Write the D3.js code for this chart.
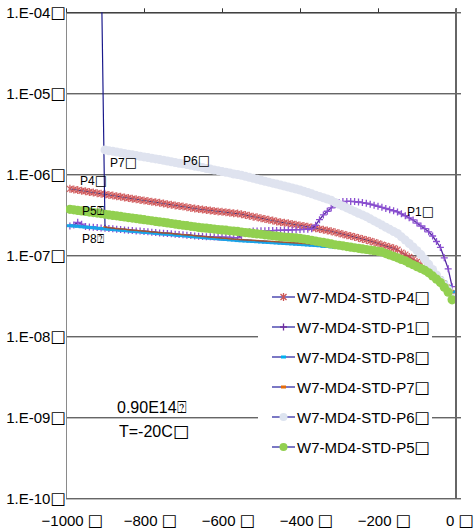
<!DOCTYPE html>
<html><head><meta charset="utf-8">
<script src="https://cdn.jsdelivr.net/npm/d3@7"></script>
<style>
html,body{margin:0;padding:0;background:#fff;}
svg text{font-family:"Liberation Sans",Arial,sans-serif;fill:#000;}
tspan.bx{font-family:"DejaVu Sans",sans-serif;}
</style></head><body>
<svg id="c" width="475" height="528"></svg>
<script>
// ---- data (current in units of 1e-7 A) ----
const volts = [-990,-980,-970,-960,-950,-940,-930,-920,-910,-900,-890,-880,-870,-860,-850,-840,-830,-820,-810,-800,-790,-780,-770,-760,-750,-740,-730,-720,-710,-700,-690,-680,-670,-660,-650,-640,-630,-620,-610,-600,-590,-580,-570,-560,-550,-540,-530,-520,-510,-500,-490,-480,-470,-460,-450,-440,-430,-420,-410,-400,-390,-380,-370,-360,-350,-340,-330,-320,-310,-300,-290,-280,-270,-260,-250,-240,-230,-220,-210,-200,-190,-180,-170,-160,-150,-140,-130,-120,-110,-100,-90,-80,-70,-60,-50,-40,-30,-20,-10];
const seriesNames = ["W7-MD4-STD-P4","W7-MD4-STD-P1","W7-MD4-STD-P8","W7-MD4-STD-P7","W7-MD4-STD-P6","W7-MD4-STD-P5"];
const legendSuffix = "□";
const p4 = [6.61,6.49,6.38,6.27,6.17,6.05,5.96,5.85,5.75,5.65,
5.56,5.46,5.37,5.27,5.18,5.09,5.00,4.92,4.83,4.75,
4.67,4.59,4.51,4.44,4.36,4.28,4.21,4.13,4.06,3.99,
3.93,3.85,3.79,3.72,3.67,3.62,3.58,3.53,3.48,3.44,
3.40,3.35,3.30,3.27,3.21,3.14,3.07,3.00,2.94,2.87,
2.81,2.74,2.69,2.62,2.56,2.52,2.48,2.43,2.39,2.34,
2.30,2.25,2.20,2.16,2.11,2.07,2.02,1.98,1.92,1.87,
1.82,1.77,1.73,1.68,1.64,1.59,1.55,1.50,1.45,1.40,
1.35,1.30,1.26,1.22,1.17,1.08,1.02,0.955,0.891,0.832,
0.776,0.708,0.646,0.575,0.513,0.468,0.427,0.380,0.324];
const p1 = [2.30,2.36,2.55,2.42,2.27,2.24,2.22,2.20,2.18,2.16,
2.14,2.12,2.10,2.08,2.06,2.04,2.02,2.00,1.99,1.97,
1.95,1.93,1.91,1.89,1.87,1.86,1.84,1.82,1.80,1.79,
1.77,1.75,1.73,1.72,1.71,1.70,1.69,1.68,1.67,1.67,
1.66,1.66,1.65,1.65,1.75,1.86,1.95,2.00,2.00,2.01,
2.01,2.02,2.02,2.03,2.03,2.04,2.05,2.06,2.07,2.08,
2.09,2.10,2.12,2.35,2.75,3.15,3.50,3.85,4.20,4.50,
4.60,4.62,4.62,4.60,4.55,4.48,4.39,4.28,4.16,4.03,
3.91,3.78,3.66,3.55,3.43,3.25,3.08,2.90,2.73,2.50,
2.30,2.13,1.95,1.73,1.48,1.25,0.93,0.68,0.41];
const p8 = [2.32,2.30,2.28,2.25,2.23,2.21,2.19,2.16,2.14,2.12,
2.10,2.08,2.06,2.04,2.02,2.00,1.98,1.96,1.95,1.92,
1.91,1.89,1.87,1.85,1.83,1.82,1.80,1.78,1.76,1.75,
1.73,1.71,1.69,1.68,1.66,1.64,1.63,1.61,1.60,1.58,
1.57,1.55,1.54,1.52,1.51,1.50,1.49,1.48,1.47,1.46,
1.45,1.44,1.43,1.42,1.41,1.40,1.39,1.38,1.37,1.36,
1.35,1.34,1.33,1.32,1.31,1.29,1.29,1.27,1.26,1.25,
1.24,1.22,1.21,1.20,1.18,1.16,1.14,1.12,1.10,1.08,
1.05,1.02,0.986,0.953,0.923,0.891,0.863,0.830,0.794,0.760,
0.728,0.697,0.656,0.608,0.564,0.521,0.465,0.414,0.355];
// P7 starts at -910 V
const p7 = [5000,
2.24,2.20,2.17,2.14,2.12,2.10,2.07,2.05,2.03,2.01,
1.99,1.97,1.95,1.93,1.91,1.89,1.88,1.86,1.84,1.82,
1.80,1.79,1.77,1.75,1.73,1.71,1.70,1.68,1.66,1.65,
1.63,1.62,1.60,1.58,1.57,1.56,1.55,1.54,1.53,1.52,
1.51,1.50,1.49,1.48,1.47,1.46,1.45,1.44,1.43,1.42,
1.41,1.40,1.39,1.38,1.36,1.35,1.34,1.33,1.32,1.31,
1.30,1.28,1.27,1.25,1.24,1.22,1.20,1.18,1.16,1.14,
1.12,1.09,1.06,1.02,0.99,0.955,0.922,0.893,0.860,0.823,
0.788,0.755,0.722,0.680,0.630,0.584,0.540,0.482,0.428,0.367];
// P6 starts at -900 V
const p6 = [20.0,19.5,19.2,18.8,18.5,18.1,17.7,17.4,17.1,16.7,
16.4,16.1,15.8,15.5,15.2,14.9,14.6,14.3,14.0,13.7,
13.5,13.2,12.9,12.6,12.4,12.1,11.8,11.6,11.3,11.1,
10.8,10.6,10.4,10.1,9.93,9.70,9.44,9.18,8.93,8.69,
8.45,8.22,8.00,7.78,7.57,7.36,7.16,6.97,6.78,6.59,
6.41,6.18,5.96,5.74,5.53,5.33,5.14,4.95,4.78,4.49,
4.27,4.06,3.85,3.66,3.48,3.31,3.15,3.00,2.82,2.66,
2.51,2.36,2.22,2.09,1.97,1.86,1.69,1.54,1.40,1.27,
1.14,1.02,0.893,0.773,0.668,0.571,0.488,0.430,0.376,0.297];
const p5 = [3.70,3.64,3.58,3.53,3.48,3.42,3.37,3.32,3.27,3.21,
3.16,3.11,3.07,3.02,2.97,2.92,2.88,2.84,2.79,2.75,
2.71,2.67,2.62,2.58,2.55,2.51,2.47,2.43,2.39,2.35,
2.32,2.28,2.25,2.21,2.18,2.16,2.13,2.11,2.08,2.06,
2.04,2.01,1.99,1.97,1.94,1.91,1.89,1.86,1.84,1.82,
1.79,1.77,1.74,1.72,1.70,1.68,1.67,1.65,1.64,1.62,
1.59,1.56,1.53,1.50,1.47,1.44,1.41,1.38,1.35,1.33,
1.31,1.28,1.26,1.24,1.22,1.20,1.18,1.16,1.14,1.12,
1.10,1.05,1.01,0.97,0.93,0.89,0.855,0.805,0.764,0.724,
0.687,0.652,0.608,0.556,0.508,0.461,0.402,0.351,0.282];
const xTicks = [-1000,-800,-600,-400,-200,0];
const xTickLabels = ["−1000 □","−800 □","−600 □","−400 □","−200 □","0 □"];
const yTicks = [1e-10,1e-9,1e-8,1e-7,1e-6,1e-5,1e-4];
const yTickLabels = ["1.E-10□","1.E-09□","1.E-08□","1.E-07□","1.E-06□","1.E-05□","1.E-04□"];
const pointLabels = ["P4□","P7□","P6□","P5⍰","P8⍰","P1□"];
const noteLines = ["0.90E14⍰","T=-20C□"];

// ---- drawing ----
const svg = d3.select("#c");
const L = 66, R = 456, T = 12.3, B = 498.3;
const x = d3.scaleLinear().domain([-1000, 0]).range([L, R]);
const y = d3.scaleLog().domain([1e-10, 1e-4]).range([B, T]);

// write a string into a text node; the box glyph gets its own larger tspan
function fillText(sel, str) {
  sel.text(null);
  const parts = str.split(/(□)/).filter(p => p.length);
  parts.forEach(p => {
    const t = sel.append("tspan").text(p);
    if (p === "□") t.attr("class","bx").attr("font-size","1.1em");
  });
}

svg.append("rect").attr("width",475).attr("height",528).attr("fill","#fff");

// horizontal gridlines (extend past right axis as ticks)
svg.append("g").attr("transform",`translate(${L},0)`)
  .call(d3.axisRight(y).tickValues(yTicks).tickSize(R - L + 5).tickFormat(""))
  .call(g => g.select(".domain").remove())
  .call(g => g.selectAll("line").attr("stroke","#262626"));

// left border
svg.append("line").attr("x1",L+0.5).attr("x2",L+0.5).attr("y1",T).attr("y2",B)
  .attr("stroke","#8a8a8a").attr("stroke-width",1);

// top x axis with outward ticks
svg.append("g").attr("transform",`translate(0,${T})`)
  .call(d3.axisTop(x).tickValues(xTicks).tickSize(4).tickSizeOuter(0).tickFormat(""))
  .call(g => g.selectAll("line,path").attr("stroke","#333"));

// y labels
svg.append("g").attr("transform",`translate(${L},0)`)
  .call(d3.axisLeft(y).tickValues(yTicks).tickSize(0).tickPadding(0).tickFormat((d,i)=>yTickLabels[i]))
  .call(g => g.select(".domain").remove())
  .call(g => g.selectAll("text").attr("font-size",15).attr("font-family",null).attr("dy","0.36em").attr("fill","#000")
    .each(function(){ fillText(d3.select(this), this.textContent); }));

// x labels (bottom)
svg.append("g").attr("transform",`translate(0,525.5)`)
  .call(d3.axisBottom(x).tickValues(xTicks).tickSize(0).tickPadding(0).tickFormat((d,i)=>xTickLabels[i]))
  .call(g => g.select(".domain").remove())
  .call(g => g.selectAll("text").attr("font-size",15).attr("font-family",null).attr("y",0).attr("dy",0)
    .attr("dx",(d,i)=> i === xTicks.length-1 ? 3.5 : 6).attr("fill","#000")
    .each(function(){ fillText(d3.select(this), this.textContent); }));

// clip
svg.append("clipPath").attr("id","clip").append("rect")
  .attr("x",L).attr("y",T).attr("width",R-L).attr("height",B-T);

const markers = {
  asterisk: (g, c) => g.append("path").attr("d","M-3,-3L3,3M-3,3L3,-3M0,-4L0,4").attr("stroke",c).attr("stroke-width",1.3).attr("fill","none"),
  plus: (g, c) => g.append("path").attr("d","M-3.5,0H3.5M0,-3.5V3.5").attr("stroke",c).attr("stroke-width",1.3).attr("fill","none"),
  dash: (g, c, w, h) => g.append("rect").attr("x",-w/2).attr("y",-h/2).attr("width",w).attr("height",h).attr("fill",c),
  circle: (g, c, r) => g.append("circle").attr("r",r).attr("fill",c)
};

const series = [
  {name:seriesNames[0], v:volts, i:p4, line:"#26307f", lw:1, mk:"asterisk", mc:"rgba(205,75,78,0.85)", lmc:"#cc5555"},
  {name:seriesNames[1], v:volts, i:p1, line:"#5228a0", lw:1.3, mk:"plus", mc:"#8a4fd0", lmc:"#7030a0"},
  {name:seriesNames[2], v:volts, i:p8, line:"#2f6fd6", lw:2, mk:"dash", mc:"#19a3e8", mw:6, mh:3, lmc:"#00b0f0"},
  {name:seriesNames[3], v:volts.slice(8), i:p7, line:"#1a1a8c", lw:1.2, mk:"dash", mc:"rgba(228,108,10,0.7)", mw:4, mh:1.5, lmc:"#e46c0a"},
  {name:seriesNames[4], v:volts.slice(9), i:p6, line:"#3b3b9b", lw:0.8, mk:"circle", mc:"#dfe3ef", r:4.5, lmc:"#dde4f0"},
  {name:seriesNames[5], v:volts, i:p5, line:"#2a2a8a", lw:1, mk:"circle", mc:"#92d050", r:4.6, lmc:"#92d050"}
];

const plot = svg.append("g").attr("clip-path","url(#clip)");
const lineGen = d3.line().x(d=>x(d[0])).y(d=>y(d[1]));
series.forEach(s => {
  const pts = s.v.map((vv,k)=>[vv, s.i[k]*1e-7]);
  const g = plot.append("g");
  g.append("path").datum(pts).attr("d",lineGen).attr("fill","none")
    .attr("stroke",s.line).attr("stroke-width",s.lw);
  g.selectAll("g.m").data(pts).join("g").attr("class","m")
    .attr("transform",d=>`translate(${x(d[0])},${y(d[1])})`)
    .each(function(){
      const m = d3.select(this);
      if (s.mk==="circle") markers.circle(m, s.mc, s.r);
      else if (s.mk==="dash") markers.dash(m, s.mc, s.mw, s.mh);
      else markers[s.mk](m, s.mc);
    });
});

// right axis (y axis crossing at x=0)
svg.append("line").attr("x1",R).attr("x2",R).attr("y1",T-4).attr("y2",B)
  .attr("stroke","#666").attr("stroke-width",2);

// point labels
const plPos = [[80,184.5],[110,166.5],[183,165],[82,215],[82,242.5],[407,215.5]];
svg.append("g").selectAll("text").data(pointLabels).join("text")
  .attr("x",(d,i)=>plPos[i][0]).attr("y",(d,i)=>plPos[i][1])
  .attr("font-size",12).each(function(d){ fillText(d3.select(this), d); });

// annotation
svg.append("g").selectAll("text").data(noteLines).join("text")
  .attr("x",(d,i)=>i?119:117).attr("y",(d,i)=>i?436.5:412.5)
  .attr("font-size",16).each(function(d){ fillText(d3.select(this), d); });

// legend
const lg = svg.append("g");
lg.append("rect").attr("x",258).attr("y",283).attr("width",174).attr("height",180).attr("fill","#fff");
series.forEach((s,k) => {
  const yy = 297 + k*30;
  lg.append("line").attr("x1",272).attr("x2",295).attr("y1",yy).attr("y2",yy)
    .attr("stroke","#7b78c4").attr("stroke-width",2);
  const m = lg.append("g").attr("transform",`translate(283.5,${yy})`);
  if (s.mk==="circle") markers.circle(m, s.lmc, 4);
  else if (s.mk==="dash") markers.dash(m, s.lmc, 5, 3);
  else markers[s.mk](m, s.lmc);
  const t = lg.append("text").attr("x",297).attr("y",yy+5.5).attr("font-size",15);
  fillText(t, s.name + legendSuffix);
});
</script>
</body></html>
